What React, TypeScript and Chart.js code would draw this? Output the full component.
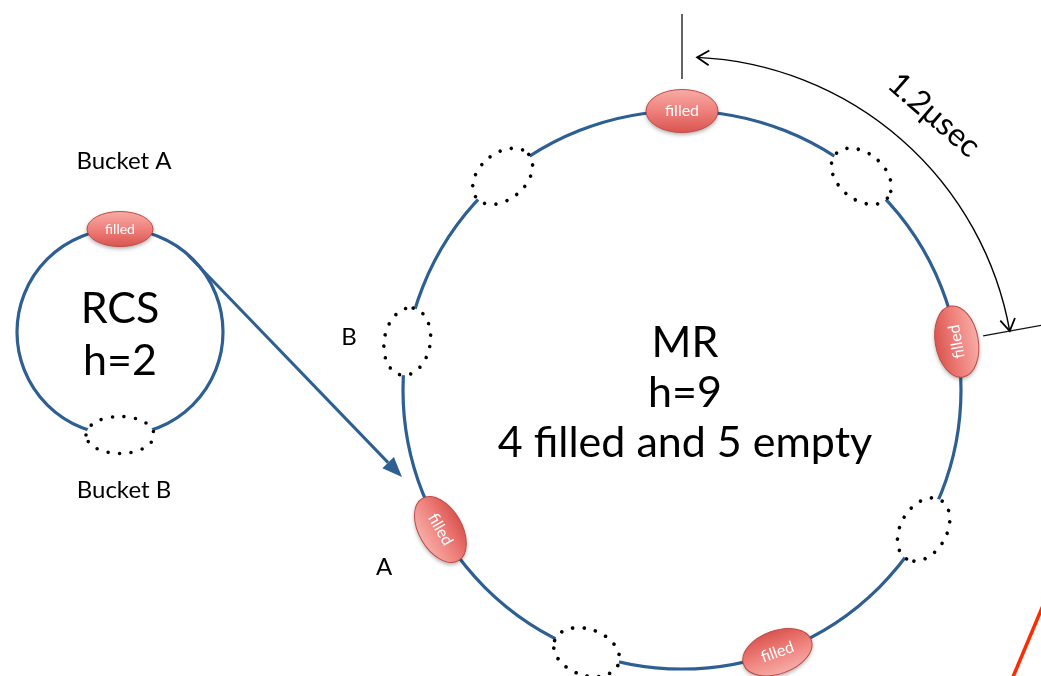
import { useEffect, useRef } from 'react';
import { Chart, registerables } from 'chart.js';

Chart.register(...registerables);

// ---------- data ----------
const RCS_NAME = 'RCS';
const RCS_H = 2;
const RCS_SLOT_ANGLES = [90, -90];
const RCS_SLOT_STATES = ['filled', 'empty'];
const RCS_SLOT_LABELS = ['Bucket A', 'Bucket B'];

const MR_NAME = 'MR';
const MR_H = 9;
const MR_SLOT_ANGLES = [90, 50, 10, -30, -70, -110, -150, 170, 130];
const MR_SLOT_STATES = ['filled', 'empty', 'filled', 'empty', 'filled', 'empty', 'filled', 'empty', 'empty'];
const MR_MARKS = ['A', 'B'];
const DELAY_LABEL = '1.2\u03bcsec';
const DELAY_FROM_ANGLE = 87.4;
const DELAY_TO_ANGLE = 10.2;

// ---------- layout (data units == pixels) ----------
const W = 1041;
const H = 676;
const RCS_C = { x: 120, y: 332, r: 103 };
const MR_C = { x: 682, y: 390, r: 279 };
const FONT = 'Lato, "Open Sans", sans-serif';
const BLUE = '#2D5F93';

export default function App() {
  const ref = useRef<HTMLCanvasElement>(null);

  useEffect(() => {
    if (!ref.current) return;
    const plugin = {
      id: 'ringDiagram',
      afterDatasetsDraw(chart: any) {
        const ctx: CanvasRenderingContext2D = chart.ctx;
        const xs = chart.scales.x;
        const ys = chart.scales.y;
        const px = (v: number) => xs.getPixelForValue(v);
        const py = (v: number) => ys.getPixelForValue(v);
        const k = xs.getPixelForValue(1) - xs.getPixelForValue(0);
        const rad = (d: number) => (d * Math.PI) / 180;

        const onRing = (c: any, ang: number, r = c.r) => ({
          x: px(c.x + r * Math.cos(rad(ang))),
          y: py(c.y - r * Math.sin(rad(ang))),
        });

        const ring = (c: any) => {
          ctx.save();
          ctx.strokeStyle = BLUE;
          ctx.lineWidth = 3.2;
          ctx.beginPath();
          ctx.arc(px(c.x), py(c.y), c.r * k, 0, Math.PI * 2);
          ctx.stroke();
          ctx.restore();
        };

        const textRot = (ang: number) => {
          let r = 90 - ang;
          while (r >= 70) r -= 180;
          while (r < -110) r += 180;
          return r;
        };

        const slot = (c: any, ang: number, state: string, rx: number, ry: number, fs: number) => {
          const p = onRing(c, ang);
          ctx.save();
          ctx.translate(p.x, p.y);
          ctx.rotate(rad(90 - ang));
          ctx.beginPath();
          ctx.ellipse(0, 0, rx * k, ry * k, 0, 0, Math.PI * 2);
          if (state === 'filled') {
            ctx.save();
            ctx.shadowColor = 'rgba(0,0,0,0.35)';
            ctx.shadowBlur = 4;
            ctx.shadowOffsetY = 2;
            const g = ctx.createLinearGradient(0, -ry * k, 0, ry * k);
            g.addColorStop(0, '#F7ACA7');
            g.addColorStop(0.5, '#EF807B');
            g.addColorStop(1, '#DA5550');
            ctx.fillStyle = g;
            ctx.fill();
            ctx.restore();
            ctx.strokeStyle = '#C24A45';
            ctx.lineWidth = 1;
            ctx.stroke();
            ctx.restore();
            ctx.save();
            ctx.translate(p.x, p.y);
            ctx.rotate(rad(textRot(ang)));
            ctx.fillStyle = '#FFFFFF';
            ctx.font = `${fs}px ${FONT}`;
            ctx.textAlign = 'center';
            ctx.textBaseline = 'middle';
            ctx.fillText('filled', 0, 0);
          } else {
            ctx.fillStyle = '#FFFFFF';
            ctx.fill();
            ctx.strokeStyle = '#000000';
            ctx.lineWidth = 3.6;
            ctx.lineCap = 'round';
            ctx.setLineDash([0, 11.5]);
            ctx.stroke();
          }
          ctx.restore();
        };

        const text = (s: string, x: number, y: number, size: number, rot = 0, base: CanvasTextBaseline = 'alphabetic') => {
          ctx.save();
          ctx.translate(px(x), py(y));
          ctx.rotate(rad(rot));
          ctx.fillStyle = '#000000';
          ctx.font = `${size}px ${FONT}`;
          ctx.textAlign = 'center';
          ctx.textBaseline = base;
          ctx.fillText(s, 0, 0);
          ctx.restore();
        };

        const line = (x1: number, y1: number, x2: number, y2: number, color: string, w: number) => {
          ctx.save();
          ctx.strokeStyle = color;
          ctx.lineWidth = w;
          ctx.beginPath();
          ctx.moveTo(px(x1), py(y1));
          ctx.lineTo(px(x2), py(y2));
          ctx.stroke();
          ctx.restore();
        };

        // rings
        ring(RCS_C);
        ring(MR_C);

        // arrow from RCS bucket A to MR slot A
        {
          const sx = px(188), sy = py(255), tx = px(402), ty = py(477);
          const a = Math.atan2(ty - sy, tx - sx);
          const L = 20, hw = 8;
          const bx = tx - L * Math.cos(a), by = ty - L * Math.sin(a);
          ctx.save();
          ctx.strokeStyle = BLUE;
          ctx.fillStyle = BLUE;
          ctx.lineWidth = 3;
          ctx.beginPath();
          ctx.moveTo(sx, sy);
          ctx.lineTo(bx, by);
          ctx.stroke();
          ctx.beginPath();
          ctx.moveTo(tx, ty);
          ctx.lineTo(bx + hw * Math.sin(a), by - hw * Math.cos(a));
          ctx.lineTo(bx - hw * Math.sin(a), by + hw * Math.cos(a));
          ctx.closePath();
          ctx.fill();
          ctx.restore();
        }

        // slots
        RCS_SLOT_ANGLES.forEach((a, i) => {
          const st = RCS_SLOT_STATES[i];
          slot(RCS_C, a, st, st === 'filled' ? 33 : 34, st === 'filled' ? 17.5 : 18.5, 14);
        });
        MR_SLOT_ANGLES.forEach((a, i) => {
          const st = MR_SLOT_STATES[i];
          slot(MR_C, a, st, st === 'filled' ? 36 : 34, st === 'filled' ? 21.5 : 23, 16);
        });

        // labels
        text(RCS_SLOT_LABELS[0], 124, 169, 24);
        text(RCS_SLOT_LABELS[1], 124, 498, 24);
        text(RCS_NAME, 120, 323, 43);
        text(`h=${RCS_H}`, 120, 375, 43);
        text(MR_MARKS[1], 349, 345, 24);
        text(MR_MARKS[0], 384, 575, 24);
        text(MR_NAME, 685, 357, 43);
        text(`h=${MR_H}`, 685, 407, 43);
        const filledN = MR_SLOT_STATES.filter((s) => s === 'filled').length;
        const emptyN = MR_SLOT_STATES.length - filledN;
        text(`${filledN} filled and ${emptyN} empty`, 685, 457, 43);
        text(DELAY_LABEL, 934, 115, 32, 41, 'middle');

        // delay dimension arc with open arrowheads
        {
          const R = 333;
          const cx = px(MR_C.x), cy = py(MR_C.y);
          ctx.save();
          ctx.strokeStyle = '#000000';
          ctx.lineWidth = 1.4;
          ctx.beginPath();
          ctx.arc(cx, cy, R * k, -rad(DELAY_FROM_ANGLE), -rad(DELAY_TO_ANGLE), false);
          ctx.stroke();
          const head = (ang: number, dx: number, dy: number) => {
            const p = onRing(MR_C, ang, R);
            const a = Math.atan2(dy, dx);
            const L = 14, sp = rad(32);
            ctx.beginPath();
            ctx.moveTo(p.x - L * Math.cos(a - sp), p.y - L * Math.sin(a - sp));
            ctx.lineTo(p.x, p.y);
            ctx.lineTo(p.x - L * Math.cos(a + sp), p.y - L * Math.sin(a + sp));
            ctx.lineWidth = 1.8;
            ctx.stroke();
          };
          const t0 = rad(DELAY_FROM_ANGLE), t1 = rad(DELAY_TO_ANGLE);
          head(DELAY_FROM_ANGLE, -Math.sin(t0), -Math.cos(t0));
          head(DELAY_TO_ANGLE, Math.sin(t1), Math.cos(t1));
          ctx.restore();
          // extension lines
          const e1a = onRing(MR_C, 90, 311), e1b = onRing(MR_C, 90, 376);
          ctx.save();
          ctx.strokeStyle = '#111111';
          ctx.lineWidth = 1.3;
          ctx.beginPath();
          ctx.moveTo(e1a.x, e1a.y);
          ctx.lineTo(e1b.x, e1b.y);
          const e2a = onRing(MR_C, DELAY_TO_ANGLE, 306), e2b = onRing(MR_C, DELAY_TO_ANGLE, 370);
          ctx.moveTo(e2a.x, e2a.y);
          ctx.lineTo(e2b.x, e2b.y);
          ctx.stroke();
          ctx.restore();
        }

        // red stroke at bottom-right corner
        line(1010, 684, 1044, 603, '#FF2A00', 3.5);
      },
    };

    const chart = new Chart(ref.current, {
      type: 'scatter',
      data: { datasets: [] },
      options: {
        animation: false,
        responsive: false,
        events: [],
        layout: { padding: 0 },
        plugins: { legend: { display: false }, tooltip: { enabled: false } },
        scales: {
          x: { type: 'linear', min: 0, max: W, display: false },
          y: { type: 'linear', min: 0, max: H, reverse: true, display: false },
        },
      },
      plugins: [plugin],
    });
    return () => chart.destroy();
  }, []);

  return (
    <div style={{ position: 'absolute', left: 0, top: 0, width: W, height: H, background: '#fff' }}>
      <canvas ref={ref} width={W} height={H} style={{ display: 'block' }} />
    </div>
  );
}
